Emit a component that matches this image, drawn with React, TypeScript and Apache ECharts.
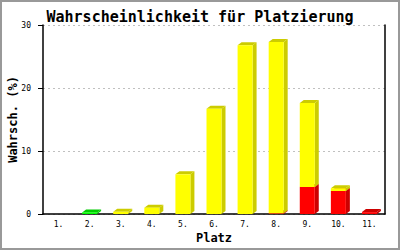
import React, { useEffect, useRef } from "react";
import * as echarts from "echarts";

const categories = ["1.", "2.", "3.", "4.", "5.", "6.", "7.", "8.", "9.", "10.", "11."];
const redValues = [0, 0, 0, 0, 0, 0, 0, 0.1, 4.3, 3.65, 0.3];
const greenValues = [0, 0.25, 0, 0, 0, 0, 0, 0, 0, 0, 0];
const yellowValues = [0, 0, 0.35, 1.0, 6.3, 16.7, 26.8, 27.2, 13.3, 0.45, 0];
const yTicks = [0, 10, 20, 30];

const FONT = "'DejaVu Sans Mono', monospace";

function makeLayer(name: string, values: number[], bases: number[], front: string, shade: string) {
  const data = values.map((v, i) => [i, bases[i], bases[i] + v, v]);
  return {
    type: "custom",
    name,
    data,
    encode: { x: 0, y: 2 },
    renderItem: (params: any, api: any) => {
      const v = api.value(3);
      if (!v) return null;
      const cat = api.value(0);
      const p0 = api.coord([cat, api.value(1)]);
      const p1 = api.coord([cat, api.value(2)]);
      const w = 15;
      const dx = 4;
      const dy = 3;
      const x0 = p0[0] - w / 2;
      const x1 = p0[0] + w / 2;
      const yb = p0[1];
      const yt = p1[1];
      return {
        type: "group",
        children: [
          {
            type: "polygon",
            shape: { points: [[x1, yb], [x1 + dx, yb - dy], [x1 + dx, yt - dy], [x1, yt]] },
            style: { fill: shade },
          },
          {
            type: "polygon",
            shape: { points: [[x0, yt], [x0 + dx, yt - dy], [x1 + dx, yt - dy], [x1, yt]] },
            style: { fill: shade },
          },
          {
            type: "rect",
            shape: { x: x0, y: yt, width: w, height: yb - yt },
            style: { fill: front },
          },
        ],
      };
    },
  };
}

export default function App() {
  const ref = useRef<HTMLDivElement>(null);
  useEffect(() => {
    document.body.style.margin = "0";
    if (!ref.current) return;
    const chart = echarts.init(ref.current, null, { renderer: "svg" });
    const greenBase = redValues.map((r) => r);
    const yellowBase = redValues.map((r, i) => r + greenValues[i]);
    const zeroBase = redValues.map(() => 0);
    chart.setOption({
      animation: false,
      backgroundColor: "#ffffff",
      title: {
        text: "Wahrscheinlichkeit für Platzierung",
        left: "center",
        top: 4,
        textStyle: { fontFamily: FONT, fontSize: 15, fontWeight: "bold", color: "#000" },
      },
      graphic: [
        {
          type: "rect",
          shape: { x: 1, y: 1, width: 398, height: 248 },
          style: { fill: "none", stroke: "#999999", lineWidth: 2 },
          silent: true,
        },
      ],
      grid: { left: 43, right: 15, top: 25, bottom: 36, containLabel: false, outerBoundsMode: "none" },
      xAxis: {
        type: "category",
        data: categories,
        name: "Platz",
        nameLocation: "middle",
        nameGap: 18,
        nameMoveOverlap: false,
        nameTextStyle: { fontFamily: FONT, fontSize: 12, fontWeight: "bold", color: "#000" },
        axisLine: { show: true, lineStyle: { color: "#000", width: 1.5 } },
        axisTick: { show: false },
        axisLabel: { fontFamily: FONT, fontSize: 8, color: "#000", margin: 6 },
        splitLine: { show: false },
      },
      yAxis: [
        {
          type: "value",
          min: 0,
          max: 30,
          interval: 10,
          name: "Wahrsch. (%)",
          nameLocation: "middle",
          nameGap: 24,
          nameMoveOverlap: false,
          nameTextStyle: { fontFamily: FONT, fontSize: 12, fontWeight: "bold", color: "#000" },
          axisLine: { show: true, lineStyle: { color: "#000", width: 1.5 } },
          axisTick: { show: true, length: 5, lineStyle: { color: "#000" } },
          axisLabel: {
            fontFamily: FONT,
            fontSize: 8,
            color: "#000",
            margin: 12,
            formatter: (v: number) => (yTicks.includes(v) ? String(v) : ""),
          },
          splitLine: { show: true, lineStyle: { color: "#c0c0c0", type: [2, 3], width: 1 } },
        },
        {
          type: "value",
          min: 0,
          max: 30,
          interval: 10,
          position: "right",
          axisLine: { show: true, lineStyle: { color: "#000", width: 1.5 } },
          axisTick: { show: false },
          axisLabel: { show: false },
          splitLine: { show: false },
        },
      ],
      series: [
        makeLayer("red", redValues, zeroBase, "#ff0000", "#cc0000"),
        makeLayer("green", greenValues, greenBase, "#00ff00", "#00cc00"),
        makeLayer("yellow", yellowValues, yellowBase, "#ffff00", "#cccc00"),
      ],
    });
    return () => chart.dispose();
  }, []);
  return <div ref={ref} style={{ width: 400, height: 250 }} />;
}
